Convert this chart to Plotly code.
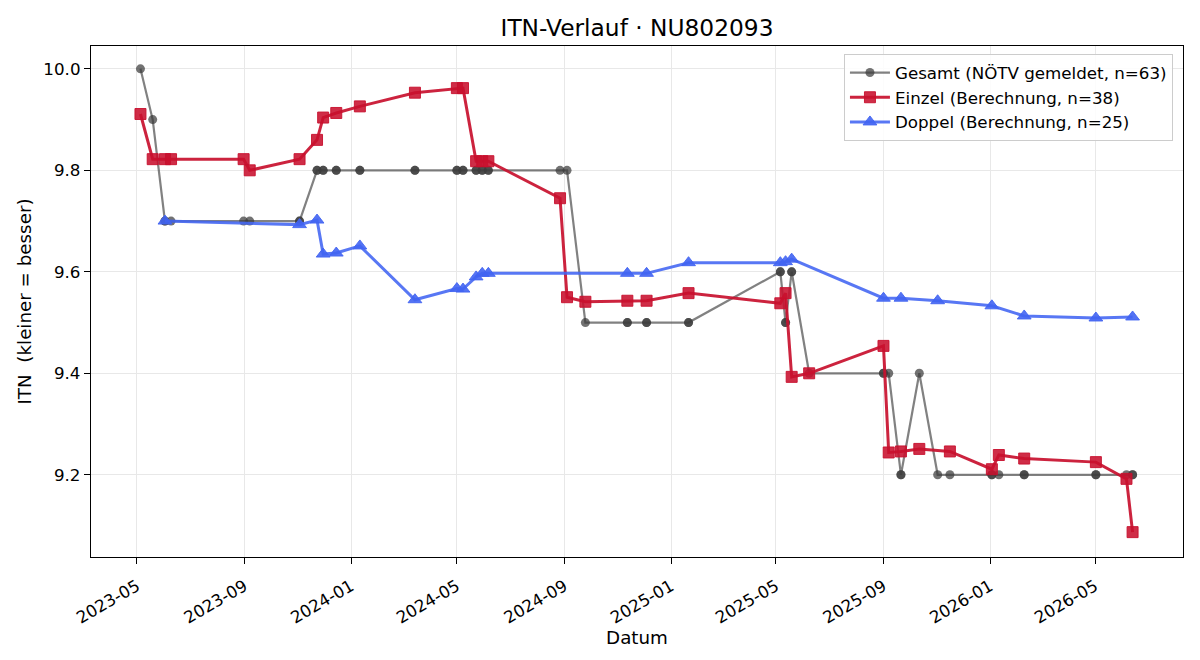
import plotly.graph_objects as go

# ---------------- data ----------------
einzel_dates = [
    "2023-05-05", "2023-05-19", "2023-06-02", "2023-06-09", "2023-08-31", "2023-09-07",
    "2023-11-03", "2023-11-23", "2023-11-30", "2023-12-15", "2024-01-11", "2024-03-14",
    "2024-05-01", "2024-05-08", "2024-05-23", "2024-05-30", "2024-06-06", "2024-08-27",
    "2024-09-04", "2024-09-25", "2024-11-12", "2024-12-04", "2025-01-21", "2025-05-06",
    "2025-05-12", "2025-05-19", "2025-06-08", "2025-09-01", "2025-09-07", "2025-09-21",
    "2025-10-12", "2025-11-16", "2026-01-03", "2026-01-11", "2026-02-09", "2026-05-02",
    "2026-06-06", "2026-06-13",
]
einzel_itn = [
    9.911, 9.822, 9.822, 9.822, 9.822, 9.800,
    9.822, 9.860, 9.904, 9.913, 9.926, 9.953,
    9.962, 9.962, 9.818, 9.818, 9.818, 9.745,
    9.550, 9.541, 9.543, 9.543, 9.558, 9.538,
    9.558, 9.393, 9.400, 9.454, 9.244, 9.246,
    9.251, 9.246, 9.211, 9.239, 9.232, 9.225,
    9.192, 9.087,
]

doppel_dates = [
    "2023-06-02", "2023-11-03", "2023-11-23", "2023-11-30", "2023-12-15", "2024-01-11",
    "2024-03-14", "2024-05-01", "2024-05-08", "2024-05-23", "2024-05-30", "2024-06-06",
    "2024-11-12", "2024-12-04", "2025-01-21", "2025-05-06", "2025-05-12", "2025-05-19",
    "2025-09-01", "2025-09-21", "2025-11-02", "2026-01-03", "2026-02-09", "2026-05-02",
    "2026-06-13",
]
doppel_itn = [
    9.700, 9.693, 9.702, 9.635, 9.637, 9.651,
    9.545, 9.567, 9.566, 9.590, 9.597, 9.597,
    9.597, 9.597, 9.618, 9.618, 9.620, 9.625,
    9.548, 9.548, 9.543, 9.533, 9.513, 9.509,
    9.511,
]

gesamt_dates = [
    "2023-05-05", "2023-05-19", "2023-06-02", "2023-06-02", "2023-06-09", "2023-08-31",
    "2023-09-07", "2023-11-03", "2023-11-03", "2023-11-23", "2023-11-23", "2023-11-30",
    "2023-11-30", "2023-12-15", "2023-12-15", "2024-01-11", "2024-01-11", "2024-03-14",
    "2024-03-14", "2024-05-01", "2024-05-01", "2024-05-08", "2024-05-08", "2024-05-23",
    "2024-05-23", "2024-05-30", "2024-05-30", "2024-06-06", "2024-06-06", "2024-08-27",
    "2024-09-04", "2024-09-25", "2024-11-12", "2024-11-12", "2024-12-04", "2024-12-04",
    "2025-01-21", "2025-01-21", "2025-05-06", "2025-05-06", "2025-05-12", "2025-05-12",
    "2025-05-19", "2025-05-19", "2025-06-08", "2025-09-01", "2025-09-01", "2025-09-07",
    "2025-09-21", "2025-09-21", "2025-10-12", "2025-11-02", "2025-11-16", "2026-01-03",
    "2026-01-03", "2026-01-11", "2026-02-09", "2026-02-09", "2026-05-02", "2026-05-02",
    "2026-06-06", "2026-06-13", "2026-06-13",
]
gesamt_itn = [
    10.0, 9.9, 9.7, 9.7, 9.7, 9.7,
    9.7, 9.7, 9.7, 9.8, 9.8, 9.8,
    9.8, 9.8, 9.8, 9.8, 9.8, 9.8,
    9.8, 9.8, 9.8, 9.8, 9.8, 9.8,
    9.8, 9.8, 9.8, 9.8, 9.8, 9.8,
    9.8, 9.5, 9.5, 9.5, 9.5, 9.5,
    9.5, 9.5, 9.6, 9.6, 9.5, 9.5,
    9.6, 9.6, 9.4, 9.4, 9.4, 9.4,
    9.2, 9.2, 9.4, 9.2, 9.2, 9.2,
    9.2, 9.2, 9.2, 9.2, 9.2, 9.2,
    9.2, 9.2, 9.2,
]

x_tickvals = ["2023-05-01", "2023-09-01", "2024-01-01", "2024-05-01", "2024-09-01",
              "2025-01-01", "2025-05-01", "2025-09-01", "2026-01-01", "2026-05-01"]
x_ticktext = ["2023-05", "2023-09", "2024-01", "2024-05", "2024-09",
              "2025-01", "2025-05", "2025-09", "2026-01", "2026-05"]
y_tickvals = [9.2, 9.4, 9.6, 9.8, 10.0]

FONT = "DejaVu Sans"
TICK_SIZE = 16.7
LABEL_SIZE = 18.3

fig = go.Figure()

fig.add_trace(go.Scatter(
    x=gesamt_dates, y=gesamt_itn, mode="lines+markers",
    name=f"Gesamt (NÖTV gemeldet, n={len(gesamt_itn)})",
    line=dict(color="rgba(70,70,70,0.68)", width=2.2),
    marker=dict(symbol="circle", size=9, color="#3c3c3c", opacity=0.72,
                line=dict(width=0)),
))
fig.add_trace(go.Scatter(
    x=einzel_dates, y=einzel_itn, mode="lines+markers",
    name=f"Einzel (Berechnung, n={len(einzel_itn)})",
    line=dict(color="rgba(200,16,46,0.92)", width=3),
    marker=dict(symbol="square", size=11, color="rgba(200,16,46,0.88)",
                line=dict(width=1, color="rgba(200,16,46,0.9)")),
))
fig.add_trace(go.Scatter(
    x=doppel_dates, y=doppel_itn, mode="lines+markers",
    name=f"Doppel (Berechnung, n={len(doppel_itn)})",
    line=dict(color="rgba(65,100,242,0.88)", width=3),
    marker=dict(symbol="triangle-up", size=12, color="rgba(65,100,242,0.9)",
                line=dict(width=1, color="rgba(65,100,242,0.9)")),
))

fig.update_layout(
    width=1200, height=660,
    margin=dict(l=91, r=17, t=46, b=103),
    paper_bgcolor="white", plot_bgcolor="white",
    font=dict(family=FONT, size=TICK_SIZE, color="black"),
    title=dict(text="ITN-Verlauf · NU802093", x=0.5, xref="paper", xanchor="center",
               y=1 - 28 / 660, yref="container", yanchor="middle",
               font=dict(family=FONT, size=23.3, color="black")),
    legend=dict(x=0.9908, y=0.984, xanchor="right", yanchor="top",
                bgcolor="rgba(255,255,255,0.85)", bordercolor="#cccccc", borderwidth=1,
                font=dict(family=FONT, size=TICK_SIZE), itemwidth=40),
    showlegend=True,
)

fig.update_xaxes(
    type="date", range=["2023-03-09 10:00", "2026-08-09 16:00"],
    tickmode="array", tickvals=x_tickvals, ticktext=x_ticktext, tickangle=-30,
    ticks="outside", ticklen=6, tickwidth=1.3, tickcolor="black",
    ticklabelstandoff=6,
    showline=True, linecolor="black", linewidth=1.3, mirror=True,
    showgrid=True, gridcolor="#e8e8e8", gridwidth=1, zeroline=False,
    tickfont=dict(family=FONT, size=TICK_SIZE),
    title=dict(text="Datum", font=dict(family=FONT, size=LABEL_SIZE), standoff=2),
)
fig.update_yaxes(
    range=[9.038, 10.045], tickmode="array", tickvals=y_tickvals, tickformat=".1f",
    ticks="outside", ticklen=6, tickwidth=1.3, tickcolor="black",
    showline=True, linecolor="black", linewidth=1.3, mirror=True,
    showgrid=True, gridcolor="#e8e8e8", gridwidth=1, zeroline=False,
    tickfont=dict(family=FONT, size=TICK_SIZE),
    title=dict(text="ITN\u00a0 (kleiner = besser)", font=dict(family=FONT, size=LABEL_SIZE), standoff=6),
)

fig.write_html("out.html")
